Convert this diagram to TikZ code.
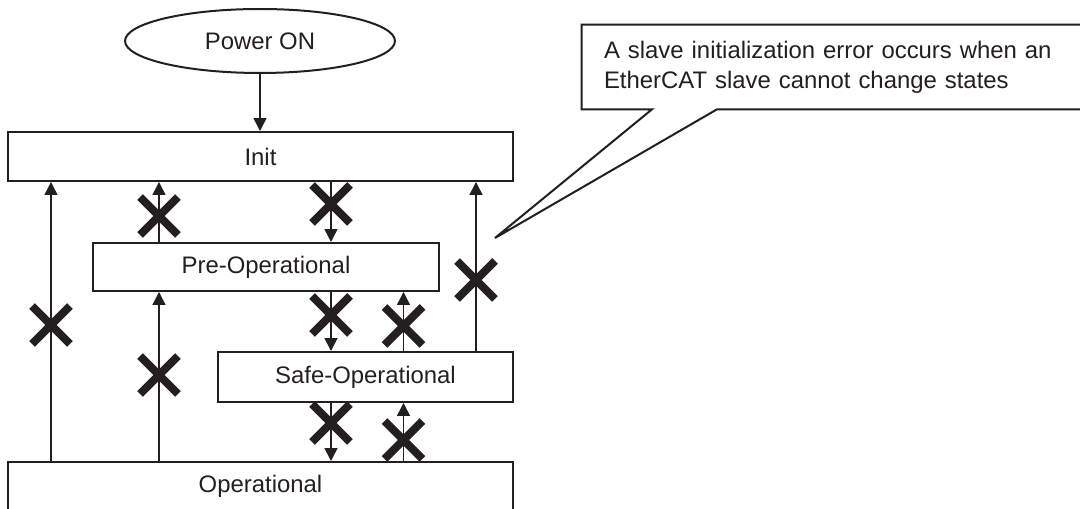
\documentclass[tikz,border=0pt]{standalone}
\usepackage{fontspec}
\setmainfont{Liberation Sans}
\usetikzlibrary{arrows.meta,shapes.geometric,shapes.misc}
\definecolor{inkgray}{HTML}{231F20}
\tikzset{
  statebox/.style={draw=inkgray, line width=0.04cm, rectangle, inner sep=0pt,
    text=inkgray, font=\fontsize{13.6pt}{17pt}\selectfont},
  trans/.style={draw=inkgray, line width=0.03cm,
    -{Triangle[length=0.26cm,width=0.26cm]}},
  nogo/.style={cross out, draw=inkgray, line width=0.16cm, minimum size=0.6cm,
    inner sep=0pt},
}
\begin{document}
\begin{tikzpicture}[x=0.02cm, y=-0.02cm]
      \useasboundingbox (0,0) rectangle (1080,509);
      \clip (0,0) rectangle (1080,509);

      % Power ON ellipse
      \node[statebox, ellipse, minimum width=5.4cm, minimum height=1.28cm] (power) at (260,41) {Power ON};

      % State boxes
      \node[statebox, minimum width=10.1cm, minimum height=0.98cm] (init) at (260.5,156.5) {Init};
      \node[statebox, minimum width=6.94cm, minimum height=0.96cm] (preop) at (266,267) {Pre-Operational};
      \node[statebox, minimum width=5.9cm, minimum height=1cm] (safeop) at (365.5,377) {Safe-Operational};
      \node[statebox, minimum width=10.1cm, minimum height=0.98cm] (op) at (260.5,486.5) {Operational};

      % Columns of the transitions
      \coordinate (c1) at (51,0);
      \coordinate (c2) at (159,0);
      \coordinate (c3) at (331,0);
      \coordinate (c4) at (403.5,0);
      \coordinate (c5) at (476,0);

      \draw[trans] (power.south) -- (power.south |- init.north);
      \draw[trans] (op.north -| c1) -- (init.south -| c1);
      \draw[trans] (preop.north -| c2) -- (init.south -| c2);
      \draw[trans] (init.south -| c3) -- (preop.north -| c3);
      \draw[trans] (safeop.north -| c5) -- (init.south -| c5);
      \draw[trans] (op.north -| c2) -- (preop.south -| c2);
      \draw[trans] (preop.south -| c3) -- (safeop.north -| c3);
      \draw[trans] (safeop.north -| c4) -- (preop.south -| c4);
      \draw[trans] (safeop.south -| c3) -- (op.north -| c3);
      \draw[trans] (op.north -| c4) -- (safeop.south -| c4);

      % Crosses on the failed transitions
      \node[nogo] (x1) at (c2 |- 0,216) {};
      \node[nogo] (x2) at (c3 |- 0,204) {};
      \node[nogo] (x3) at (c1 |- 0,325) {};
      \node[nogo] (x4) at (c5 |- 0,280) {};
      \node[nogo] (x5) at (c2 |- 0,375) {};
      \node[nogo] (x6) at (c3 |- 0,315) {};
      \node[nogo] (x7) at (c4 |- 0,326) {};
      \node[nogo] (x8) at (c3 |- 0,423) {};
      \node[nogo] (x9) at (c4 |- 0,440) {};

      % Callout with the note
      \node[
        inner xsep=0.44cm,
        inner ysep=0pt,
        minimum width=10.04cm,
        minimum height=1.68cm,
        text width=9.16cm,
        align=left,
        text=inkgray,
        font=\fontsize{13.6pt}{17pt}\selectfont
      ] (note) at (833,67) {%
A slave initialization error occurs when an\\EtherCAT slave cannot change states
      };
      \coordinate (tip) at (495,238);
      \coordinate (b1) at (652,0);
      \coordinate (b2) at (717,0);
      \draw[inkgray, line width=0.04cm] (note.south -| b1) -- (note.south west) -- (note.north west)
        -- (note.north east) -- (note.south east) -- (note.south -| b2) -- (tip) -- cycle;

    \end{tikzpicture}
\end{document}
